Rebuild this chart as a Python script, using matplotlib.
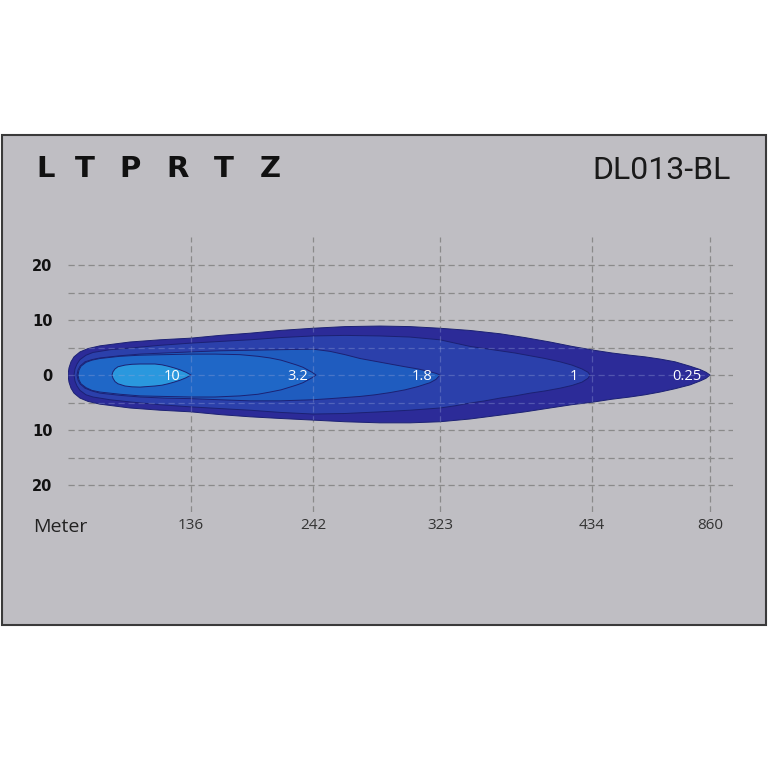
import numpy as np
import matplotlib.pyplot as plt
from matplotlib.patches import Rectangle

# distance ticks (x position in chart units, label in meters)
tick_pos = [191, 313, 440, 592, 710]
tick_labels = ['136', '242', '323', '434', '860']
y_ticks = [20, 10, 0, -10, -20]
y_labels = ['20', '10', '0', '10', '20']
y_minor = [15, 5, -5, -15]

# lux isolines: x position, upper and lower half width (m)
x_025 = [68, 69, 71, 74, 80, 88, 100, 130, 160, 191, 220, 250, 280, 313, 345, 380, 410,
         440, 470, 500, 525, 550, 572, 594, 612, 630, 645, 660, 675, 690, 700, 706, 710]
top_025 = [0, 1.3, 2.4, 3.3, 4.2, 4.8, 5.3, 6.0, 6.4, 6.7, 7.2, 7.6, 8.1, 8.5, 8.8, 8.9, 8.8,
           8.5, 8.1, 7.5, 6.8, 6.0, 5.2, 4.5, 4.0, 3.6, 3.3, 2.9, 2.4, 1.6, 1.0, 0.5, 0]
bot_025 = [0, -1.3, -2.4, -3.3, -4.2, -4.8, -5.3, -6.0, -6.4, -6.7, -7.2, -7.6, -7.9, -8.2, -8.5, -8.7, -8.7,
           -8.5, -8.0, -7.3, -6.7, -6.0, -5.4, -4.9, -4.4, -4.0, -3.6, -3.1, -2.5, -1.8, -1.1, -0.6, 0]

x_1 = [74, 75, 77, 80, 86, 93, 110, 130, 160, 191, 220, 250, 280, 313, 345, 380, 410,
       440, 455, 470, 485, 500, 515, 530, 545, 560, 572, 582, 588, 590]
top_1 = [0, 1.1, 2.0, 2.8, 3.6, 4.1, 4.6, 4.9, 5.4, 5.8, 6.1, 6.4, 6.8, 7.1, 7.2, 7.1, 6.9,
         6.4, 5.8, 5.2, 4.8, 4.4, 4.0, 3.5, 3.0, 2.4, 1.8, 1.1, 0.5, 0]
bot_1 = [0, -1.1, -2.0, -2.8, -3.6, -4.0, -4.5, -4.9, -5.4, -5.8, -6.1, -6.4, -6.8, -7.1, -7.0, -6.7, -6.4,
         -6.0, -5.6, -5.1, -4.7, -4.2, -3.8, -3.3, -2.9, -2.4, -1.9, -1.3, -0.6, 0]

x_18 = [77, 78, 80, 85, 92, 100, 120, 140, 165, 191, 220, 250, 280, 313, 330, 345,
        360, 375, 390, 405, 418, 430, 436, 440]
top_18 = [0, 0.9, 1.6, 2.4, 2.8, 3.1, 3.5, 3.8, 4.0, 4.2, 4.4, 4.5, 4.6, 4.7, 4.3, 3.7,
          3.0, 2.5, 2.0, 1.5, 1.1, 0.6, 0.3, 0]
bot_18 = [0, -0.9, -1.6, -2.4, -2.9, -3.3, -3.7, -4.0, -4.2, -4.3, -4.5, -4.7, -4.7, -4.5, -4.3, -4.1,
          -3.9, -3.6, -3.2, -2.7, -2.1, -1.4, -0.8, 0]

x_32 = [78, 79, 81, 86, 92, 100, 120, 140, 165, 191, 215, 240, 258, 270, 281, 290,
        297, 303, 308, 312, 316]
top_32 = [0, 0.9, 1.6, 2.3, 2.7, 3.0, 3.4, 3.6, 3.7, 3.8, 3.8, 3.7, 3.4, 3.1, 2.7, 2.2,
          1.8, 1.4, 0.9, 0.5, 0]
bot_32 = [0, -0.9, -1.6, -2.3, -2.8, -3.1, -3.5, -3.8, -3.9, -4.0, -4.0, -3.8, -3.5, -3.1, -2.7, -2.2,
          -1.8, -1.4, -0.9, -0.5, 0]

x_10 = [112, 113, 115, 118, 125, 132, 140, 155, 162, 168, 174, 180, 186, 191]
top_10 = [0, 0.6, 1.1, 1.5, 1.8, 1.95, 2.0, 2.0, 1.85, 1.6, 1.3, 0.95, 0.5, 0]
bot_10 = [0, -0.6, -1.2, -1.6, -2.0, -2.15, -2.2, -2.0, -1.85, -1.6, -1.3, -0.95, -0.5, 0]

levels = ['0.25', '1', '1.8', '3.2', '10']
level_x = [687, 574, 422, 298, 172]
colors = ['#2c2b98', '#2b40ab', '#1f5cbf', '#1f67c7', '#2a98de']

fig = plt.figure(figsize=(7.68, 7.68), dpi=100)
fig.patch.set_facecolor('white')
fig.add_artist(Rectangle((2 / 768, 1 - 625 / 768), 764 / 768, 490 / 768,
                         transform=fig.transFigure, facecolor='#bfbec3',
                         edgecolor='#3a3a3a', lw=1.5, zorder=-1))

ax = fig.add_axes([68 / 768, 1 - 512 / 768, 665 / 768, 275 / 768])
ax.patch.set_alpha(0)
ax.set_xlim(68, 733)
ax.set_ylim(-137 / 5.5, 138 / 5.5)
for s in ax.spines.values():
    s.set_visible(False)

ax.set_xticks(tick_pos, tick_labels)
ax.set_yticks(y_ticks, y_labels)
ax.set_yticks(y_minor, minor=True)
ax.tick_params(which='both', length=0)
ax.tick_params(axis='y', pad=11, labelsize=10.5, labelcolor='#111111')
ax.tick_params(axis='x', pad=4, labelsize=11, labelcolor='#333333')
for lbl in ax.get_yticklabels():
    lbl.set_fontweight('bold')
for lbl in ax.get_xticklabels():
    lbl.set_fontfamily('Open Sans')

dash = (0, (5, 3))
grid_kw = dict(color='#8a8a8a', ls=dash, lw=0.9)
ax.grid(True, which='both', axis='y', **grid_kw)
ax.grid(True, which='major', axis='x', **grid_kw)
ax.set_axisbelow(True)

shapes = [(x_025, top_025, bot_025), (x_1, top_1, bot_1), (x_18, top_18, bot_18),
          (x_32, top_32, bot_32), (x_10, top_10, bot_10)]
patches = []
for (xs, tp, bt), c in zip(shapes, colors):
    xs = np.array(xs)
    p = ax.fill(np.concatenate([xs, xs[::-1]]), np.concatenate([tp, bt[::-1]]),
                facecolor=c, edgecolor='#1c2173', lw=0.7, zorder=2,
                joinstyle='round')[0]
    patches.append(p)

# faint grid showing through the beam
for yv in y_ticks + y_minor:
    ln = ax.axhline(yv, color='#9aa6d8', ls=dash, lw=0.9, alpha=0.35, zorder=2.5)
    ln.set_clip_path(patches[0])
for xv in tick_pos:
    ln = ax.axvline(xv, color='#9aa6d8', ls=dash, lw=0.9, alpha=0.35, zorder=2.5)
    ln.set_clip_path(patches[0])

for lab, lx in zip(levels, level_x):
    ax.text(lx, -0.3, lab, color='white', ha='center', va='center',
            fontsize=10.5, family='Open Sans', zorder=3)

fig.text(33 / 768, 1 - 532 / 768, 'Meter', fontsize=14, family='Open Sans',
         color='#222222', va='baseline')
fig.text(731 / 768, 1 - 179 / 768, 'DL013-BL', fontsize=23, family='Roboto',
         color='#1a1a1a', ha='right', va='baseline')

logo_x = [46, 85, 130, 178, 224, 270]
for ch, cx in zip('LTPRTZ', logo_x):
    fig.text(cx / 768, 1 - 177 / 768, ch, fontsize=21, fontweight='bold',
             color='#111111', ha='center', va='baseline')

fig.savefig('out.png', dpi=100)
